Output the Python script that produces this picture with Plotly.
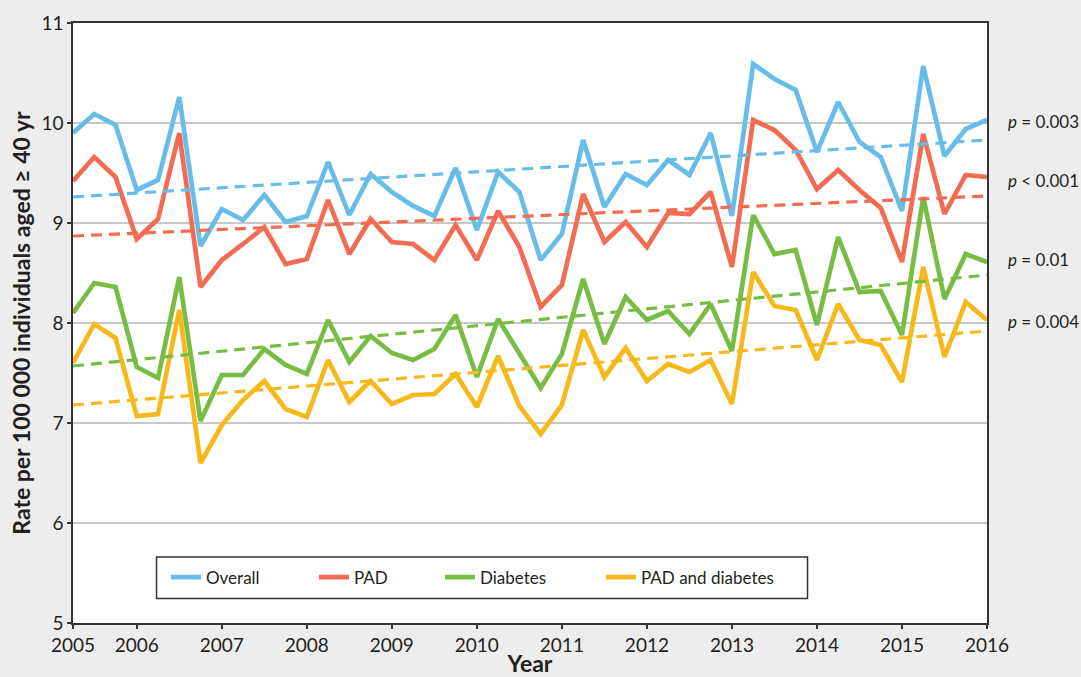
import plotly.graph_objects as go

# ---------------- data ----------------
quarter_index = list(range(44))          # quarterly observations, 2005 -> 2016
tick_index = [0, 3, 7, 11, 15, 19, 23, 27, 31, 35, 39, 43]
tick_years = ["2005", "2006", "2007", "2008", "2009", "2010",
              "2011", "2012", "2013", "2014", "2015", "2016"]

series_names = ["Overall", "PAD", "Diabetes", "PAD and diabetes"]

overall = [9.90, 10.09, 9.98, 9.33, 9.43, 10.26, 8.77, 9.14, 9.03, 9.28, 9.01,
           9.07, 9.61, 9.08, 9.49, 9.31, 9.17, 9.07, 9.55, 8.93, 9.51, 9.31,
           8.63, 8.89, 9.83, 9.16, 9.49, 9.38, 9.63, 9.48, 9.90, 9.07, 10.59,
           10.44, 10.33, 9.71, 10.21, 9.81, 9.66, 9.12, 10.57, 9.67, 9.94, 10.03]
pad = [9.42, 9.66, 9.46, 8.84, 9.04, 9.90, 8.36, 8.63, 8.79, 8.96, 8.59,
       8.64, 9.23, 8.69, 9.04, 8.81, 8.79, 8.63, 8.98, 8.63, 9.12, 8.76,
       8.16, 8.38, 9.29, 8.81, 9.01, 8.76, 9.10, 9.09, 9.31, 8.56, 10.03,
       9.93, 9.73, 9.34, 9.53, 9.33, 9.15, 8.61, 9.89, 9.09, 9.48, 9.46]
diabetes = [8.10, 8.40, 8.36, 7.56, 7.45, 8.46, 7.02, 7.48, 7.48, 7.74, 7.58,
            7.49, 8.03, 7.61, 7.87, 7.70, 7.63, 7.74, 8.08, 7.46, 8.04, 7.69,
            7.35, 7.69, 8.44, 7.79, 8.26, 8.03, 8.12, 7.89, 8.19, 7.72, 9.08,
            8.69, 8.73, 7.98, 8.86, 8.31, 8.32, 7.88, 9.26, 8.24, 8.69, 8.61]
pad_diabetes = [7.60, 7.99, 7.85, 7.07, 7.09, 8.13, 6.60, 6.98, 7.23, 7.42, 7.14,
                7.06, 7.63, 7.21, 7.42, 7.19, 7.28, 7.29, 7.49, 7.16, 7.67, 7.17,
                6.89, 7.18, 7.93, 7.46, 7.75, 7.42, 7.59, 7.51, 7.63, 7.19, 8.51,
                8.17, 8.13, 7.63, 8.19, 7.83, 7.78, 7.41, 8.56, 7.66, 8.21, 8.03]

# linear trend lines: value at first and last quarter
trend_start = [9.26, 8.87, 7.57, 7.18]
trend_end = [9.83, 9.27, 8.48, 7.92]

p_labels = ["<i>p</i> = 0.003", "<i>p</i> &lt; 0.001", "<i>p</i> = 0.01", "<i>p</i> = 0.004"]
p_label_y = [10.02, 9.43, 8.64, 8.02]

# ---------------- styling ----------------
colors = ["#67bde8", "#f26b52", "#77bd43", "#f7b81c"]
FONT = "Lato, 'Open Sans', sans-serif"
TXT = "#231f20"

W, H = 1081, 677
ML, MR, MT, MB = 73, 94, 23, 54
PW, PH = W - ML - MR, H - MT - MB

def px_x(x):
    return (x - ML) / PW

def px_y(y):
    return (H - MB - y) / PH

fig = go.Figure()

all_series = [overall, pad, diabetes, pad_diabetes]
legend_ids = ["legend", "legend2", "legend3", "legend4"]
legend_item_x = [166, 314, 440, 601]

for name, vals, col, lg in zip(series_names, all_series, colors, legend_ids):
    fig.add_trace(go.Scatter(
        x=quarter_index, y=vals, mode="lines", name=name,
        line=dict(color=col, width=4.7), legend=lg,
    ))

for s, e, col in zip(trend_start, trend_end, colors):
    fig.add_trace(go.Scatter(
        x=[quarter_index[0], quarter_index[-1]], y=[s, e], mode="lines",
        line=dict(color=col, width=3.2, dash="11px,7px"),
        showlegend=False, hoverinfo="skip",
    ))

annotations = []
for txt, yv in zip(p_labels, p_label_y):
    annotations.append(dict(
        text=txt, xref="paper", x=px_x(1006), xanchor="left",
        yref="y", y=yv, yanchor="middle", showarrow=False,
        font=dict(family=FONT, size=17, color=TXT),
    ))

legend_common = dict(
    orientation="h", yanchor="middle", y=px_y(577.5), xanchor="left",
    bgcolor="rgba(0,0,0,0)", borderwidth=0,
    font=dict(family=FONT, size=17, color=TXT),
)
layout_legends = {}
for lg, lx in zip(legend_ids, legend_item_x):
    layout_legends[lg] = dict(legend_common, x=px_x(lx))

fig.update_layout(
    width=W, height=H,
    margin=dict(l=ML, r=MR, t=MT, b=MB, pad=0, autoexpand=False),
    paper_bgcolor="#ededed",
    plot_bgcolor="#ffffff",
    font=dict(family=FONT, size=19, color=TXT),
    xaxis=dict(
        range=[quarter_index[0], quarter_index[-1]],
        tickmode="array", tickvals=tick_index, ticktext=tick_years,
        showgrid=False, zeroline=False, automargin=False,
        ticks="outside", ticklen=4, tickwidth=1.5, tickcolor="#333333",
        showline=True, linecolor="#333333", linewidth=1.5, mirror=True,
        tickfont=dict(family=FONT, size=19, color=TXT),
        title=dict(text="<b>Year</b>", font=dict(family=FONT, size=23, color=TXT), standoff=11),
    ),
    yaxis=dict(
        range=[5, 11], tick0=5, dtick=1,
        showgrid=True, gridcolor="#c8c8c8", gridwidth=2, zeroline=False, automargin=False,
        ticks="outside", ticklen=4, tickwidth=1.5, tickcolor="#333333",
        showline=True, linecolor="#333333", linewidth=1.5, mirror=True,
        tickfont=dict(family=FONT, size=19, color=TXT),
        title=dict(text="<b>Rate per 100 000 individuals aged ≥ 40 yr</b>",
                   font=dict(family=FONT, size=23, color=TXT), standoff=4),
    ),
    annotations=annotations,
    shapes=[dict(
        type="rect", xref="paper", yref="paper",
        x0=px_x(156.5), x1=px_x(807.5), y0=px_y(598.5), y1=px_y(557),
        line=dict(color="#333333", width=1.5), fillcolor="rgba(0,0,0,0)",
        layer="above",
    )],
    **layout_legends,
)

fig.write_html("out.html", config={"displayModeBar": False},
               post_script="document.body.style.margin='0px';")
